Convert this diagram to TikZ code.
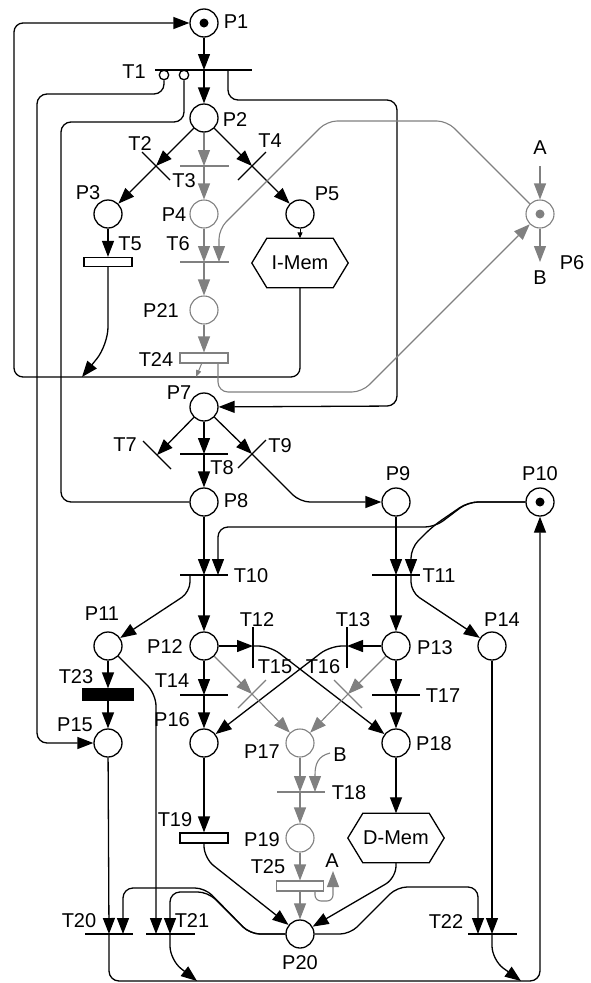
\documentclass[tikz,border=0pt]{standalone}
\usepackage{fontspec}
\setmainfont{Liberation Sans}
\usetikzlibrary{arrows.meta}
\definecolor{gr}{RGB}{128,128,128}
\begin{document}
\begin{tikzpicture}[x=1pt,y=-1pt,
 every node/.style={font=\fontsize{20}{23}\selectfont},
 lw/.style={line width=1.3pt},
 place/.style={circle,draw,lw,minimum size=28pt,inner sep=0pt},
 gplace/.style={place,draw=gr,line width=1.1pt},
 token/.style={circle,fill,inner sep=0pt,minimum size=9pt},
 lab/.style={inner sep=0pt},
 bar/.style={lw},
 gbar/.style={line width=1.1pt,gr},
 arr/.style={lw,-{Triangle[length=16pt,width=12pt]}},
 garr/.style={line width=1.1pt,gr,-{Triangle[length=16pt,width=12pt]}},
 sarr/.style={line width=1pt,-{Triangle[length=6pt,width=5pt]}},
 gsarr/.style={line width=1pt,gr,-{Triangle[length=7pt,width=5pt]}},
 ln/.style={lw},
 trect/.style={draw,lw,fill=white,minimum width=48pt,minimum height=10pt,inner sep=0pt},
 inhib/.style={circle,draw,lw,fill=white,minimum size=9.5pt,inner sep=0pt},
 memlab/.style={inner sep=0pt,minimum width=96pt,minimum height=49pt},
 hexa/.style={lw},
]
\useasboundingbox (0,0) rectangle (590,983);

% ---------- places ----------
\node[place] (p1) at (204,23) {};
\node[token] (p1t) at (p1) {};
\node[place] (p2) at (204,118) {};
\node[place] (p3) at (108,214) {};
\node[gplace] (p4) at (204,214) {};
\node[place] (p5) at (300,214) {};
\node[gplace] (p6) at (540,214) {};
\node[token,gr] (p6t) at (p6) {};
\node[gplace] (p21) at (204,310) {};
\node[place] (p7) at (204,407) {};
\node[place] (p8) at (204,502) {};
\node[place] (p9) at (396,502) {};
\node[place] (p10) at (540,502) {};
\node[token] (p10t) at (p10) {};
\node[place] (p11) at (108,646) {};
\node[place] (p12) at (204,646) {};
\node[place] (p13) at (396,646) {};
\node[place] (p14) at (492,646) {};
\node[place] (p15) at (108,743) {};
\node[place] (p16) at (204,743) {};
\node[gplace] (p17) at (300,743) {};
\node[place] (p18) at (396,743) {};
\node[gplace] (p19) at (300,838) {};
\node[place] (p20) at (300,934) {};

% ---------- memories ----------
\node[memlab] (imem) at (300,263) {I-Mem};
\node[memlab] (dmem) at (396,838) {D-Mem};
\foreach \m in {imem,dmem}
  \draw[hexa] (\m.west) -- ([xshift=15pt]\m.north west) -- ([xshift=-15pt]\m.north east)
     -- (\m.east) -- ([xshift=-15pt]\m.south east) -- ([xshift=15pt]\m.south west) -- cycle;

% ---------- rectangular transitions ----------
\node[trect,minimum height=9pt] (t5) at (108,262) {};
\node[trect,draw=gr,line width=1.1pt] (t24) at (204,358) {};
\node[trect] (t19) at (204,838) {};
\node[trect,draw=gr,line width=1.1pt,minimum width=47pt] (t25) at (300,886) {};
\node[trect,fill=black,minimum width=50pt,minimum height=11pt] (t23) at (108,694.5) {};

% ---------- bar transitions ----------
\coordinate (t1) at (204,70);  \coordinate (t1r) at (228,70);
\draw[bar] (155,70) -- (252,70);
\coordinate (t2) at (156,166); \draw[bar] (142,152) -- (170,180);
\coordinate (t3) at (204,166); \draw[gbar] (180,166) -- (229,166);
\coordinate (t4) at (252,166); \draw[bar] (238,180) -- (266,152);
\coordinate (t6) at (204,262); \coordinate (t6b) at (219,262);
\draw[gbar] (180,262) -- (229,262);
\coordinate (t7) at (157,455); \draw[bar] (143,441) -- (171,469);
\coordinate (t8) at (204,454); \draw[bar] (180,454) -- (228,454);
\coordinate (t9) at (252,454); \draw[bar] (238,468) -- (266,440);
\coordinate (t10) at (204,575); \coordinate (t10b) at (218,575); \coordinate (t10l) at (190,575);
\draw[bar] (180,575) -- (228,575);
\coordinate (t11) at (396,575); \coordinate (t11b) at (411,575);
\draw[bar] (372,575) -- (420,575);
\coordinate (t12) at (253,646); \draw[bar] (253,627) -- (253,668);
\coordinate (t13) at (347,646); \draw[bar] (347,627) -- (347,668);
\coordinate (t14) at (204,695); \draw[bar] (180,695) -- (228,695);
\coordinate (t15) at (252,694); \draw[gbar] (238,708) -- (266,680);
\coordinate (t16) at (348,694); \draw[gbar] (334,680) -- (362,708);
\coordinate (t17) at (396,695); \draw[bar] (372,695) -- (420,695);
\coordinate (t18) at (300,792); \coordinate (t18b) at (315,792);
\draw[gbar] (277,792) -- (325,792);
\coordinate (t20) at (109,934); \coordinate (t20b) at (123,934);
\draw[bar] (85,934) -- (133,934);
\coordinate (t21) at (170,934); \coordinate (t21a) at (156,934);
\draw[bar] (146,934) -- (195,934);
\coordinate (t22) at (492,934); \coordinate (t22a) at (478,934);
\draw[bar] (468,934) -- (517,934);

% ---------- free ends ----------
\coordinate (loopin) at (82,377);
\coordinate (p6a) at (540,166);
\coordinate (p6b) at (540,262);
\coordinate (t24r) at (218,363);
\coordinate (t24p) at (196,377);
\coordinate (bq) at (330,753);
\coordinate (t25r) at (315,891);
\coordinate (t25a) at (333,871);
\coordinate (bot1) at (197,981);
\coordinate (bot2) at (521,981);

% ---------- labels ----------
\node[lab] (lp1) at (236,22) {P1};
\node[lab] (lp2) at (235,120) {P2};
\node[lab] (lp3) at (88,193) {P3};
\node[lab] (lp4) at (174,215) {P4};
\node[lab] (lp5) at (327,194) {P5};
\node[lab] (lp6) at (572,263) {P6};
\node[lab] (la1) at (540,148) {A};
\node[lab] (lb1) at (540,278) {B};
\node[lab] (lp21) at (161,311) {P21};
\node[lab] (lp7) at (179,393) {P7};
\node[lab] (lp8) at (236,501) {P8};
\node[lab] (lp9) at (398,474) {P9};
\node[lab] (lp10) at (540,474) {P10};
\node[lab] (lp11) at (102,614) {P11};
\node[lab] (lp12) at (165,647) {P12};
\node[lab] (lp13) at (435,648) {P13};
\node[lab] (lp14) at (502,620) {P14};
\node[lab] (lp15) at (75,725) {P15};
\node[lab] (lp16) at (172,720) {P16};
\node[lab] (lp17) at (262,752) {P17};
\node[lab] (lp18) at (434,744) {P18};
\node[lab] (lp19) at (262,840) {P19};
\node[lab] (lp20) at (300,963) {P20};
\node[lab] (lb2) at (340,755) {B};
\node[lab] (la2) at (332,861) {A};
\node[lab] (lt1) at (134,72) {T1};
\node[lab] (lt2) at (140,144) {T2};
\node[lab] (lt3) at (184,181) {T3};
\node[lab] (lt4) at (270,141) {T4};
\node[lab] (lt5) at (130,244) {T5};
\node[lab] (lt6) at (178,244) {T6};
\node[lab] (lt24) at (156,360) {T24};
\node[lab] (lt7) at (125,445) {T7};
\node[lab] (lt8) at (222,468) {T8};
\node[lab] (lt9) at (280,446) {T9};
\node[lab] (lt10) at (251,576) {T10};
\node[lab] (lt11) at (439,576) {T11};
\node[lab] (lt12) at (257,620) {T12};
\node[lab] (lt13) at (353,620) {T13};
\node[lab] (lt14) at (172,681) {T14};
\node[lab] (lt15) at (275,667) {T15};
\node[lab] (lt16) at (323,667) {T16};
\node[lab] (lt17) at (443,696) {T17};
\node[lab] (lt18) at (349,793) {T18};
\node[lab] (lt19) at (175,820) {T19};
\node[lab] (lt23) at (76,677) {T23};
\node[lab] (lt25) at (268,867) {T25};
\node[lab] (lt20) at (79,921) {T20};
\node[lab] (lt21) at (192,921) {T21};
\node[lab] (lt22) at (446,922) {T22};

% ---------- black arcs ----------
\draw[arr] (p1) -- (t1);
\draw[arr] (t1) -- (p2);
\draw[arr] (p2) -- (t2);
\draw[arr] (t2) -- (p3);
\draw[arr] (p2) -- (t4);
\draw[arr] (t4) -- (p5);
\draw[arr] (p3) -- (t5);
\draw[arr,rounded corners=18pt] (t5) -- (108,345) -- (loopin);
\draw[sarr] (p5) -- (imem);
\draw[arr,rounded corners=9pt] (imem) -- (300,377) -- (14,377) -- (14,23) -- (p1);
\node[inhib] (i1) at (164,75) {};
\node[inhib] (i2) at (184,75) {};
\draw[arr,rounded corners=10pt] (i1) -- (164,94) -- (37,94) -- (37,743) -- (p15);
\draw[ln,rounded corners=10pt] (i2) -- (184,122) -- (61,122) -- (61,502) -- (p8);
\draw[arr,rounded corners=10pt] (t1r) -- (228,100) -- (397,100) -- (397,406) -- (p7);
\draw[arr] (p7) -- (t7);
\draw[arr] (p7) -- (t8);
\draw[arr] (t8) -- (p8);
\draw[arr] (p7) -- (t9);
\draw[arr,rounded corners=10pt] (t9) -- (300,502) -- (p9);
\draw[arr] (p8) -- (t10);
\draw[arr,rounded corners=10pt] (p10) -- (468,502) -- (435,527) -- (218,527) -- (t10b);
\draw[arr,rounded corners=10pt] (p10) -- (468,502) -- (433,526) -- (411,548) -- (t11b);
\draw[arr] (p9) -- (t11);
\draw[arr,rounded corners=10pt] (t10l) -- (190,592) -- (p11);
\draw[arr] (t10) -- (p12);
\draw[arr] (t11) -- (p13);
\draw[arr,rounded corners=10pt] (t11b) -- (411,592) -- (p14);
\draw[arr] (p12) -- (t12);
\draw[arr,rounded corners=12pt] (t12) -- (270,646) -- (p18);
\draw[arr] (p13) -- (t13);
\draw[arr,rounded corners=12pt] (t13) -- (330,646) -- (p16);
\draw[arr] (p12) -- (t14);
\draw[arr] (t14) -- (p16);
\draw[arr] (p13) -- (t17);
\draw[arr] (t17) -- (p18);
\draw[arr] (p11) -- (t23);
\draw[arr] (t23) -- (p15);
\draw[arr,rounded corners=12pt] (p11) -- (156,694) -- (t21a);
\draw[arr] (p15) -- (t20);
\draw[arr] (p16) -- (t19);
\draw[arr,rounded corners=12pt] (t19) -- (204,858) -- (p20);
\draw[arr] (p18) -- (dmem);
\draw[arr,rounded corners=12pt] (dmem) -- (396,878) -- (p20);
\draw[arr,rounded corners=10pt] (p20) -- (250,934) -- (205,888) -- (123,888) -- (t20b);
\draw[arr,rounded corners=10pt] (p20) -- (250,934) -- (208,892) -- (170,892) -- (t21);
\draw[arr,rounded corners=10pt] (p20) -- (350,934) -- (397,887) -- (478,887) -- (t22a);
\draw[arr] (p14) -- (t22);
\draw[arr,rounded corners=10pt] (t20) -- (109,981) -- (540,981) -- (p10);
\draw[arr,rounded corners=14pt] (t21) -- (170,960) -- (bot1);
\draw[arr,rounded corners=14pt] (t22) -- (492,960) -- (bot2);

% ---------- gray arcs ----------
\draw[garr] (p2) -- (t3);
\draw[garr] (t3) -- (p4);
\draw[garr] (p4) -- (t6);
\draw[garr] (t6) -- (p21);
\draw[garr] (p21) -- (t24);
\draw[garr,rounded corners=10pt] (p6) -- (447,121) -- (327,121) -- (219,229) -- (t6b);
\draw[garr,rounded corners=10pt] (t24r) -- (218,392) -- (362,392) -- (p6);
\draw[gsarr] (t24) -- (t24p);
\draw[garr] (p6a) -- (p6);
\draw[garr] (p6) -- (p6b);
\draw[garr] (p12) -- (t15);
\draw[garr] (t15) -- (p17);
\draw[garr] (p13) -- (t16);
\draw[garr] (t16) -- (p17);
\draw[garr] (p17) -- (t18);
\draw[garr] (bq) .. controls (318,756) and (315,764) .. (315,775) -- (t18b);
\draw[garr] (t18) -- (p19);
\draw[garr] (p19) -- (t25);
\draw[garr] (t25) -- (p20);
\draw[garr,rounded corners=6pt] (t25r) -- (315,901) -- (333,901) -- (t25a);
\end{tikzpicture}
\end{document}
